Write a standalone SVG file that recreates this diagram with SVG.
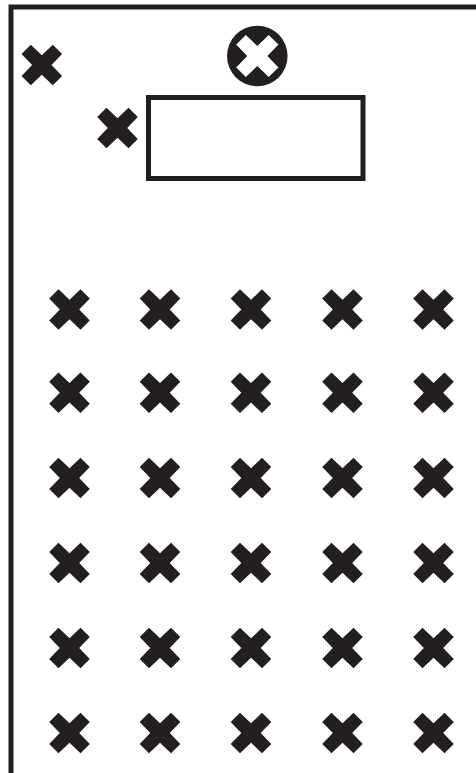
<svg xmlns="http://www.w3.org/2000/svg" width="476" height="773" viewBox="0 0 476 773">
<style>
.ink{fill:#231f20}
.line{fill:none;stroke:#231f20;stroke-width:5}
</style>
<defs>
<polygon id="x" points="-11,-20.3 0,-9.7 11,-20.3 20.3,-11 9.7,0 20.3,11 11,20.3 0,9.7 -11,20.3 -20.3,11 -9.7,0 -20.3,-11"/>
</defs>
<rect width="476" height="773" fill="#fff"/>
<path id="frame" class="line" d="M11 773V7H476"/>
<g id="table"><rect class="line" fill="#fff" x="148.5" y="97.5" width="214.5" height="81"/></g>
<g id="circle-mark"><circle class="ink" cx="257.3" cy="56" r="30.3"/><use href="#x" fill="#fff" transform="translate(257.3 56) scale(1.04)"/></g>
<g id="mark-a"><use href="#x" class="ink" x="41.8" y="65"/></g>
<g id="mark-b"><use href="#x" class="ink" x="117.5" y="128"/></g>
<g id="grid" class="ink">
<g id="r1"><use href="#x" x="69.5" y="309.5"/><use href="#x" x="160" y="309.5"/><use href="#x" x="251" y="309.5"/><use href="#x" x="342.5" y="309.5"/><use href="#x" x="433.5" y="309.5"/></g>
<g id="r2"><use href="#x" x="69.5" y="392.8"/><use href="#x" x="160" y="392.8"/><use href="#x" x="251" y="392.8"/><use href="#x" x="342.5" y="392.8"/><use href="#x" x="433.5" y="392.8"/></g>
<g id="r3"><use href="#x" x="69.5" y="478"/><use href="#x" x="160" y="478"/><use href="#x" x="251" y="478"/><use href="#x" x="342.5" y="478"/><use href="#x" x="433.5" y="478"/></g>
<g id="r4"><use href="#x" x="69.5" y="563"/><use href="#x" x="160" y="563"/><use href="#x" x="251" y="563"/><use href="#x" x="342.5" y="563"/><use href="#x" x="433.5" y="563"/></g>
<g id="r5"><use href="#x" x="69.5" y="648"/><use href="#x" x="160" y="648"/><use href="#x" x="251" y="648"/><use href="#x" x="342.5" y="648"/><use href="#x" x="433.5" y="648"/></g>
<g id="r6"><use href="#x" x="69.5" y="733"/><use href="#x" x="160" y="733"/><use href="#x" x="251" y="733"/><use href="#x" x="342.5" y="733"/><use href="#x" x="433.5" y="733"/></g>
</g>
</svg>
